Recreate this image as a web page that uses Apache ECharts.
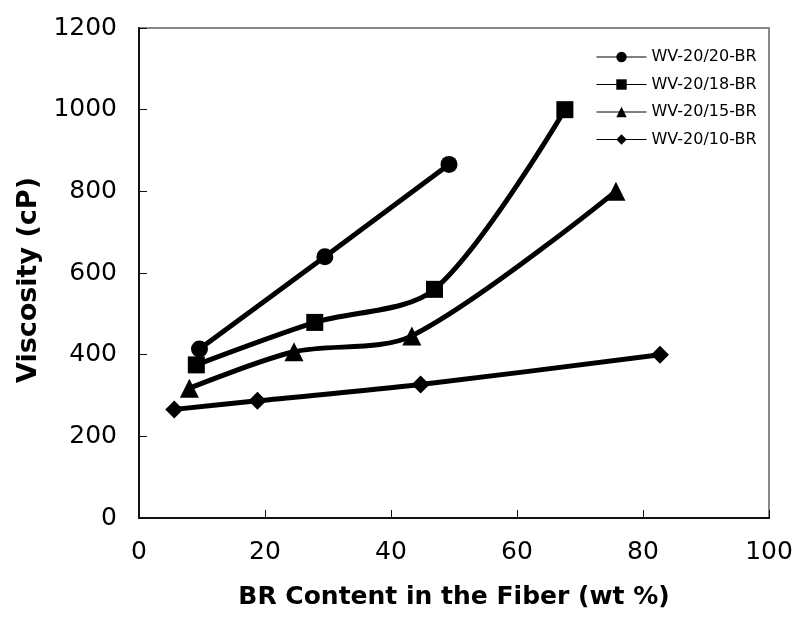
<!DOCTYPE html>
<html>
<head>
<meta charset="utf-8">
<script src="https://cdn.jsdelivr.net/npm/echarts@6/dist/echarts.min.js"></script>
<style>
	html, body { margin: 0; padding: 0; background: #fff; }
	#chart { width: 797px; height: 617px; }
</style>
</head>
<body>
<div id="chart"></div>
<script>
	// values: [BR content wt%, viscosity cP]
	var seriesNames = ['WV-20/20-BR', 'WV-20/18-BR', 'WV-20/15-BR', 'WV-20/10-BR'];
	var data2020 = [[9.6, 414], [29.5, 640], [49.2, 866]];
	var data2018 = [[9.1, 375], [27.9, 479], [46.9, 560], [67.6, 1000]];
	var data2015 = [[8.0, 318], [24.6, 407], [43.3, 446], [75.7, 800]];
	var data2010 = [[5.6, 266], [18.8, 287], [44.7, 327], [82.7, 400]];
	var symbols = ['circle', 'rect', 'triangle', 'diamond'];
	var symbolSizes = [17, 17, 19, 18];

	var font = 'DejaVu Sans, Verdana, sans-serif';
	var chart = echarts.init(document.getElementById('chart'));

	var allData = [data2020, data2018, data2015, data2010];
	var series = [];
	for (var i = 0; i < allData.length; i++) {
		series.push({
			name: seriesNames[i],
			type: 'line',
			data: allData[i],
			symbol: symbols[i],
			symbolSize: symbolSizes[i],
			smooth: 0.3,
			lineStyle: { color: '#000', width: 5 },
			itemStyle: { color: '#000' },
			z: 3
		});
	}

	var option = {
		animation: false,
		backgroundColor: '#fff',
		grid: {
			left: 139, right: 28, top: 28, bottom: 99,
			show: true,
			borderColor: '#888',
			borderWidth: 2
		},
		legend: {
			orient: 'vertical',
			left: 591,
			top: 44,
			itemWidth: 50,
			itemHeight: 13,
			itemGap: 11.5,
			lineStyle: { width: 1 },
			textStyle: { fontFamily: font, fontSize: 16, color: '#000' },
			data: seriesNames
		},
		xAxis: {
			type: 'value',
			min: 0, max: 100, interval: 20,
			name: 'BR Content in the Fiber (wt %)',
			nameLocation: 'middle',
			nameGap: 67,
			nameTextStyle: { fontFamily: font, fontSize: 25, fontWeight: 'bold', color: '#000' },
			axisLine: { show: true, lineStyle: { color: '#111', width: 2 } },
			axisTick: { show: true, inside: true, length: 8, lineStyle: { color: '#111', width: 1 } },
			axisLabel: { fontFamily: font, fontSize: 25, color: '#000', margin: 22 },
			splitLine: { show: false }
		},
		yAxis: {
			type: 'value',
			min: 0, max: 1200, interval: 200,
			name: 'Viscosity (cP)',
			nameLocation: 'middle',
			nameGap: 94,
			nameTextStyle: { fontFamily: font, fontSize: 27, fontWeight: 'bold', color: '#000', padding: [0, 14, 0, 0] },
			axisLine: { show: true, lineStyle: { color: '#111', width: 2 } },
			axisTick: { show: true, inside: true, length: 8, lineStyle: { color: '#111', width: 1 } },
			axisLabel: {
				fontFamily: font, fontSize: 25, color: '#000', margin: 22,
				formatter: function (v) { return String(v); }
			},
			splitLine: { show: false }
		},
		series: series
	};
	chart.setOption(option);
</script>
</body>
</html>
